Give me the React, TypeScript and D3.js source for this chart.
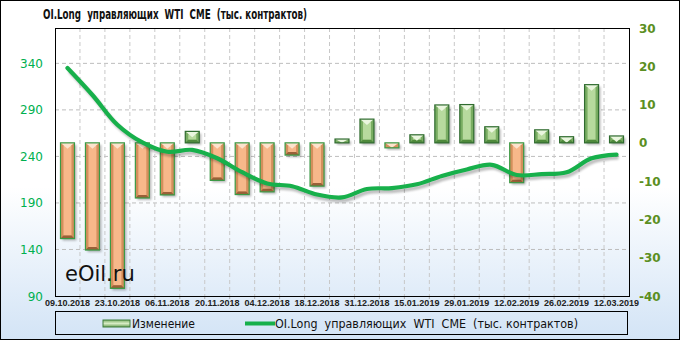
import React from "react";
import * as d3 from "d3";

const dates = [
  "09.10.2018", "16.10.2018", "23.10.2018", "30.10.2018", "06.11.2018", "13.11.2018",
  "20.11.2018", "27.11.2018", "04.12.2018", "11.12.2018", "18.12.2018", "24.12.2018",
  "31.12.2018", "08.01.2019", "15.01.2019", "22.01.2019", "29.01.2019", "05.02.2019",
  "12.02.2019", "19.02.2019", "26.02.2019", "05.03.2019", "12.03.2019",
];
const changeValues = [
  -25, -28, -38, -14.4, -13.6, 3, -9.8, -13.5, -12.8, -3.2, -11.3, 1,
  6.2, -1.3, 2.1, 9.9, 10, 4.2, -10.4, 3.4, 1.6, 15.2, 1.8,
];
const oiValues = [
  335, 306, 274, 255, 245, 247, 238, 223, 211, 208, 199, 196,
  205, 206, 210, 219, 226, 231, 220, 221, 223, 238, 242,
];
const leftTicks = [90, 140, 190, 240, 290, 340];
const rightTicks = [-40, -30, -20, -10, 0, 10, 20, 30];
const title = "OI.Long  управляющих  WTI  CME  (тыс. контрактов)";
const legendBar = "Изменение";
const legendLine = "OI.Long  управляющих  WTI  CME  (тыс. контрактов)";

const W = 680, H = 340;
const pL = 55, pR = 629, pT = 28, pB = 296;

export default function App() {
  const idx = dates.map((_, i) => i);
  const x = d3.scaleBand<number>().domain(idx).range([pL, pR]).paddingInner(0.44).paddingOuter(0.22);
  const step = x.step();
  const yR = d3.scaleLinear().domain([-40, 30]).range([pB, pT]);
  const yL = d3.scaleLinear().domain([90, 378]).range([pB, pT]);
  const line = d3.line<number>()
    .x((_, i) => (x(i) as number) + x.bandwidth() / 2)
    .y((d) => yL(d))
    .curve(d3.curveCatmullRom.alpha(0.5));
  const path = line(oiValues) || "";

  const bars = changeValues.map((v, i) => {
    const x0 = x(i) as number;
    const w = x.bandwidth();
    const x1 = x0 + w;
    const yt = Math.min(yR(v), yR(0));
    const yb = Math.max(yR(v), yR(0));
    const h = yb - yt;
    const pos = v >= 0;
    const c = pos
      ? { out: "#2f6b2f", side: "#79ad62", face: "#b7da9e", top: "#eaf6df", bot: "#4f8a3c" }
      : { out: "#3a9a45", side: "#d38f5c", face: "#f7b88a", top: "#fde3cd", bot: "#9a6038" };
    const b = Math.min(3, h / 2);
    const cx = x0 + w / 2;
    return (
      <g key={i}>
        <rect x={x0 + 2} y={yt + 2} width={w} height={h} fill="#000" opacity={0.28} filter="url(#blur)" />
        <rect x={x0} y={yt} width={w} height={h} fill={c.side} />
        {h > 6 && <rect x={x0 + b} y={yt + b} width={w - 2 * b} height={h - 2 * b} fill={c.face} />}
        {h > 6 && <polygon points={`${x0},${yb} ${x1},${yb} ${x1 - b},${yb - b} ${x0 + b},${yb - b}`} fill={c.bot} />}
        <polygon points={`${x0},${yt} ${x1},${yt} ${cx},${yt + Math.min(h, b + 3)}`} fill={c.top} />
        <rect x={x0} y={yt} width={w} height={h} fill="none" stroke={c.out} strokeWidth={1.2} />
      </g>
    );
  });

  const pre = { whiteSpace: "pre" as const };

  return (
    <svg width={W} height={H} style={{ display: "block", position: "absolute", left: 0, top: 0 }}>
      <defs>
        <linearGradient id="bg" x1="0" y1="0" x2="0" y2="1">
          <stop offset="0%" stopColor="#ffffff" />
          <stop offset="55%" stopColor="#ffffff" />
          <stop offset="100%" stopColor="#d3e4f6" />
        </linearGradient>
        <linearGradient id="legbar" x1="0" y1="0" x2="0" y2="1">
          <stop offset="0%" stopColor="#7fb069" />
          <stop offset="50%" stopColor="#d6ecc4" />
          <stop offset="100%" stopColor="#6a9f55" />
        </linearGradient>
        <filter id="blur" x="-20%" y="-20%" width="140%" height="140%">
          <feGaussianBlur stdDeviation="1" />
        </filter>
      </defs>
      <rect x={0.5} y={0.5} width={W - 1} height={H - 1} fill="url(#bg)" stroke="#000" />
      <text x={43} y={19} style={pre} fontFamily="'DejaVu Sans Condensed', 'DejaVu Sans', sans-serif" fontWeight="bold" fontSize={13.5}
        textLength={264} lengthAdjust="spacingAndGlyphs" fill="#111">{title}</text>

      {/* gridlines */}
      {leftTicks.filter((t) => t > 90).map((t) => (
        <line key={"h" + t} x1={pL} x2={pR} y1={yL(t)} y2={yL(t)} stroke="#bdbdbd" strokeDasharray="4,3" />
      ))}
      {idx.slice(1).map((i) => (
        <line key={"v" + i} x1={pL + i * step} x2={pL + i * step} y1={pT} y2={pB} stroke="#c8c8c8" strokeDasharray="4,3" />
      ))}
      {idx.slice(1).map((i) => (
        <line key={"t" + i} x1={pL + i * step} x2={pL + i * step} y1={pB} y2={pB + 3} stroke="#aaa" />
      ))}

      {bars}

      <text x={65} y={281} fontFamily="'DejaVu Sans', sans-serif" fontSize={21} fill="#111">eOil.ru</text>

      <path d={path} fill="none" stroke="#000" strokeWidth={4} opacity={0.25} transform="translate(2,3)" filter="url(#blur)" />
      <path d={path} fill="none" stroke="#17b04b" strokeWidth={4.2} strokeLinecap="round" />

      <rect x={pL + 0.5} y={pT + 0.5} width={pR - pL} height={pB - pT} fill="none" stroke="#000" />

      {leftTicks.map((t) => (
        <text key={"l" + t} x={43} y={yL(t) + 4.5} textAnchor="end" fontFamily="'DejaVu Sans', sans-serif" fontSize={12} fill="#00b04f">{t}</text>
      ))}
      {rightTicks.map((t) => (
        <text key={"r" + t} x={639} y={yR(t) + 4.5} fontFamily="'DejaVu Sans', sans-serif" fontWeight="bold" fontSize={12} fill="#5b8f22">{t}</text>
      ))}
      {idx.filter((i) => i % 2 === 0).map((i) => (
        <text key={"x" + i} x={(x(i) as number) + x.bandwidth() / 2} y={306} textAnchor="middle"
          fontFamily="'Liberation Sans', Arial, sans-serif" fontWeight="bold" fontSize={9} fill="#222">{dates[i]}</text>
      ))}

      {/* legend */}
      <rect x={55.5} y={311.5} width={572} height={23} fill="none" stroke="#000" />
      <rect x={103} y={320} width={27} height={7} fill="url(#legbar)" stroke="#3d7d3d" strokeWidth={1} />
      <text x={132} y={327.5} fontFamily="'DejaVu Sans', sans-serif" fontSize={11.5} textLength={63} lengthAdjust="spacingAndGlyphs" fill="#111">{legendBar}</text>
      <line x1={245} x2={275} y1={323.5} y2={323.5} stroke="#17b04b" strokeWidth={4} />
      <text x={275} y={327.5} style={pre} fontFamily="'DejaVu Sans', sans-serif" fontSize={11.5} textLength={303} lengthAdjust="spacingAndGlyphs" fill="#111">{legendLine}</text>
    </svg>
  );
}
